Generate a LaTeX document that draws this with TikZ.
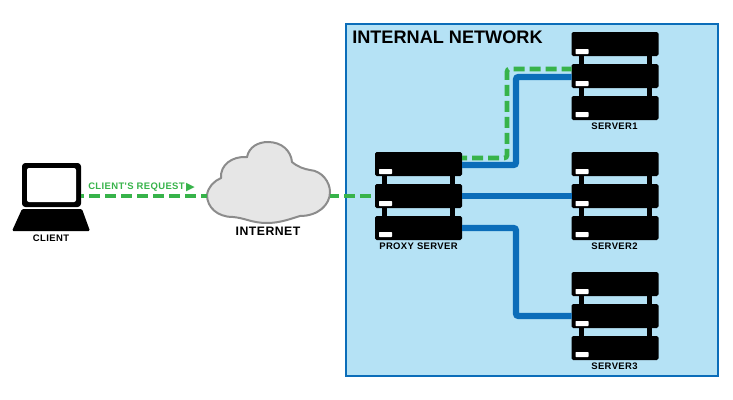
\documentclass[tikz,border=0pt]{standalone}
\usepackage{fontspec}
\setmainfont{Liberation Sans}
\newfontfamily\symfont{DejaVu Sans}
\newfontfamily\lblfont[LetterSpace=4]{Liberation Sans}
\definecolor{netfill}{HTML}{B5E2F5}
\definecolor{netblue}{HTML}{0B6DB9}
\definecolor{reqgreen}{HTML}{37B34A}
\definecolor{cloudfill}{HTML}{E6E6E6}
\definecolor{cloudline}{HTML}{8C8C8C}
\tikzset{
  unit/.style={draw=none,fill=black,rounded corners=1.2pt,minimum width=65.25pt,minimum height=18pt,inner sep=0pt,outer sep=0pt},
  led/.style={fill=white,draw=none,rounded corners=.5pt,minimum width=9.75pt,minimum height=3.75pt,inner sep=0pt},
  post/.style={fill=black,draw=none,minimum width=3.75pt,minimum height=7.5pt,inner sep=0pt},
  lbl/.style={font=\lblfont\bfseries\fontsize{7.1pt}{8pt}\selectfont,inner sep=0pt},
  reqline/.style={draw=reqgreen,line width=3.5pt},
  linkline/.style={draw=netblue,line width=4.8pt,rounded corners=2pt}
}
\newcommand{\serverrack}[3]{%
  \node[post] at (#2-34,#3+16) {};
  \node[post] at (#2+34,#3+16) {};
  \node[post] at (#2-34,#3+48) {};
  \node[post] at (#2+34,#3+48) {};
  \node[unit] (#1a) at (#2,#3) {};
  \node[unit] (#1b) at (#2,#3+32) {};
  \node[unit] (#1c) at (#2,#3+64) {};
  \node[led] at (#2-33,#3+7.5) {};
  \node[led] at (#2-33,#3+39.5) {};
  \node[led] at (#2-33,#3+70.5) {};
}
\begin{document}
\begin{tikzpicture}[x=0.75pt,y=-0.75pt]
\useasboundingbox (0,0) rectangle (733,400);
\node[draw=netblue,fill=netfill,line width=1.6pt,minimum width=279.5pt,minimum height=263.5pt,inner sep=0pt] (net) at (532,200) {};
\node[anchor=west,font=\bfseries\fontsize{13.6pt}{16pt}\selectfont,inner sep=0pt] (nettitle) at (352,37.5) {INTERNAL NETWORK};
\coordinate (bendA) at (516,165);
\coordinate (bendB) at (516,77);
\coordinate (bendC) at (516,228);
\coordinate (bendD) at (516,316);
\coordinate (gA) at (507,158);
\coordinate (gB) at (507,69);
\serverrack{proxy}{418.5}{164}
\serverrack{sa}{615}{44}
\serverrack{sb}{615}{164}
\serverrack{sc}{615}{284}
\draw[linkline] (proxya.east |- bendA) -- (bendA) -- (bendB) -- (sab.west |- bendB);
\draw[linkline] (proxyb.east) -- (sbb.west);
\draw[linkline] (proxyc.east) -- (bendC) -- (bendD) -- (scb.west |- bendD);
\draw[reqline,rounded corners=2pt,dash pattern=on 8.25pt off 3.75pt,dash phase=4.5pt] (proxya.east |- gA) -- (gA) -- (gB) -- (sab.west |- gB);
\node[lbl] (plabel) at (418.5,246) {PROXY SERVER};
\node[lbl] (s1label) at (614.5,126) {SERVER1};
\node[lbl] (s2label) at (614.5,246) {SERVER2};
\node[lbl] (s3label) at (614.5,366) {SERVER3};
% client
\fill[black,rounded corners=2.5pt] (22,163) rectangle (81,207);
\node[fill=white,draw=none,rounded corners=1.5pt,minimum width=36.75pt,minimum height=25.5pt,inner sep=0pt] (screen) at (51.5,185) {};
\fill[black,rounded corners=1pt] (22,209) -- (82,209) -- (90,231) -- (12,231) -- cycle;
\coordinate (clientport) at (81,196);
\node[lbl] (clabel) at (51,238) {CLIENT};
% cloud
\path[draw=cloudline,fill=cloudfill,line width=1.5pt]
  (207,195) .. controls (208,187) and (214,181) .. (221,178)
  .. controls (220,165) and (232,156) .. (247,157)
  .. controls (249,147) and (258,142) .. (268,142)
  .. controls (282,142) and (291,151) .. (292,162)
  .. controls (298,167) and (304,169) .. (310,170)
  .. controls (322,171) and (330,182) .. (330,192)
  .. controls (330,205) and (318,216) .. (300,216)
  .. controls (290,219) and (280,223) .. (267,223)
  .. controls (252,223) and (245,218) .. (233,217)
  .. controls (217,217) and (207,207) .. (207,195) -- cycle;
\coordinate (cloudL) at (207,196);
\coordinate (cloudR) at (330,196);
\node[font=\lblfont\bfseries\fontsize{9.2pt}{11pt}\selectfont,inner sep=0pt] (ilabel) at (268,231) {INTERNET};
\draw[reqline,dash pattern=on 8.25pt off 3.75pt,dash phase=6pt] (clientport) -- (cloudL);
\draw[reqline,dash pattern=on 8.25pt off 3.75pt,dash phase=1.5pt] (cloudR) -- (proxyb.west);
\node[anchor=west,text=reqgreen,lbl] (req) at (88,187.5) {CLIENT'S REQUEST};
\node[anchor=west,text=reqgreen,inner sep=0pt,font=\symfont\fontsize{8.5pt}{9pt}\selectfont] (reqarrow) at ([xshift=.6pt]req.east) {▶};
\end{tikzpicture}
\end{document}
